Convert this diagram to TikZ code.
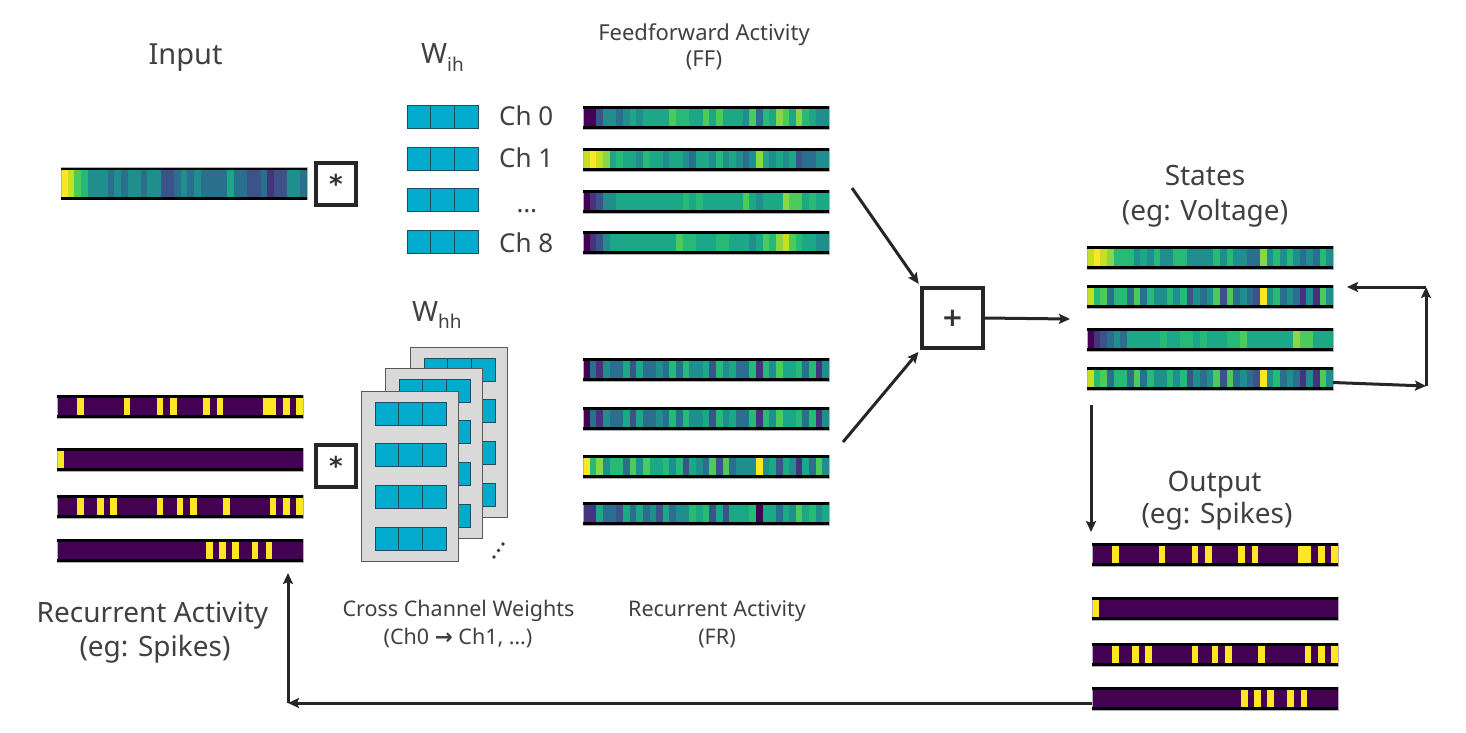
\documentclass[tikz,border=0pt]{standalone}
\usepackage{fontspec}
\setmainfont{Noto Sans}
\newfontfamily\arrowfont{DejaVu Sans}
\usetikzlibrary{arrows.meta,positioning}

\definecolor{vir0}{HTML}{440154}
\definecolor{vir1}{HTML}{46337E}
\definecolor{vir2}{HTML}{3B528B}
\definecolor{vir3}{HTML}{2A6F8E}
\definecolor{vir4}{HTML}{1F8E8D}
\definecolor{vir5}{HTML}{1CA886}
\definecolor{vir6}{HTML}{27BA76}
\definecolor{vir7}{HTML}{4CCB5B}
\definecolor{vir8}{HTML}{8AD646}
\definecolor{vir9}{HTML}{C4E020}
\definecolor{vir10}{HTML}{FDE725}
\definecolor{wcyan}{HTML}{00ABCD}
\definecolor{wedge}{HTML}{1E4D5C}
\definecolor{panelgray}{HTML}{D9D9D9}
\definecolor{txt}{HTML}{404040}

\newcommand{\fsz}[1]{\fontsize{#1}{#1}\selectfont}

\tikzset{
    strip/.style={minimum width=246pt, minimum height=#1, inner sep=0pt, outer sep=0pt, draw=black!30, line width=0.5pt},
    strip/.default=23pt,
    wcell/.style={fill=wcyan, draw=wedge, line width=1pt, minimum width=71pt, minimum height=23pt, inner sep=0pt},
    panel/.style={fill=panelgray, draw=black!65, line width=1.2pt, minimum width=97pt, minimum height=170pt, inner sep=0pt},
    opbox/.style={draw=black!85, line width=3.2pt, minimum width=40pt, minimum height=42pt, inner sep=0pt, font=\arrowfont\bfseries\fsz{26}, text=black!80},
    flow/.style={-{Stealth[length=11pt, width=10pt, inset=2pt]}, line width=3pt, black!85},
    bigtext/.style={text=txt, inner sep=0pt, font=\fsz{28}},
    midtext/.style={text=txt, inner sep=0pt, font=\fsz{22}},
    chtext/.style={text=txt, inner sep=0pt, font=\fsz{26}},
}

% colour strip: [height]{name}{left x}{top y}{levels}
\newcommand{\vstrip}[5][23]{%
    \foreach \c [count=\i from 0] in {#5}
        \fill[vir\c] ({#3+\i*6.65},#4) rectangle ++(6.75,#1);
    \node[strip={#1pt}, anchor=north west] (#2) at (#3,#4) {};
    \draw[line width=2.6pt] ([yshift=-1.3pt]#2.north west) -- ([yshift=-1.3pt]#2.north east)
        ([yshift=1.3pt]#2.south west) -- ([yshift=1.3pt]#2.south east);
}
% spike strip: {name}{left x}{top y}{spike cells}
\newcommand{\sstrip}[4]{%
    \fill[vir0] (#2,#3) rectangle ++(246,23);
    \foreach \k in {#4}
        \fill[vir10] ({#2+\k*6.65},#3) rectangle ++(6.65,23);
    \node[strip, anchor=north west] (#1) at (#2,#3) {};
    \draw[line width=2.6pt] ([yshift=-1.3pt]#1.north west) -- ([yshift=-1.3pt]#1.north east)
        ([yshift=1.3pt]#1.south west) -- ([yshift=1.3pt]#1.south east);
}
% weight kernel: {name}{left x}{top y}
\newcommand{\wbox}[3]{%
    \node[wcell, anchor=north west] (#1) at ({#2},{#3}) {};
    \draw[wedge, line width=1pt] ({#2+23.67},{#3}) -- ++(0,23) ({#2+47.33},{#3}) -- ++(0,23);
}

\begin{document}
\begin{tikzpicture}[x=1pt, y=-1pt]
    \useasboundingbox (0,0) rectangle (1466,732);

    % input
    \node [bigtext, anchor=base, font=\fsz{29}] (inlabel) at (185.5,64) {Input};
    \vstrip[32]{inp}{61}{167.5}{10,9,7,6,4,4,4,3,4,3,4,4,3,4,4,2,2,3,4,3,4,3,3,3,3,5,3,3,2,2,3,1,2,2,4,4,3}
    \node [opbox] (star1) at (336,184) {\raisebox{-6pt}{*}};

    % input weights
    \node [text=txt, inner sep=0pt, anchor=base west] (wih) at (421,63)
        {\fsz{28}W\raisebox{-8pt}{\fsz{19}ih}};
    \foreach \y [count=\k from 0] in {105,147,188,230}
        \wbox{ih\k}{407}{\y};
    \node [chtext, anchor=base west] (ch0) at (499,125) {Ch 0};
    \node [chtext, anchor=base west] (ch1) at (499,167) {Ch 1};
    \node [chtext, anchor=base] (chdots) at (527,212) {…};
    \node [chtext, anchor=base west] (ch8) at (499,252) {Ch 8};

    % feedforward activity
    \node [midtext, anchor=base] (fflabel) at (704,40) {Feedforward Activity};
    \node [midtext, anchor=base] (ffnote) at (704,66) {(FF)};
    \vstrip{ff0}{583}{106}{0,0,2,4,4,3,4,5,4,5,5,5,5,7,6,6,5,5,7,5,7,5,5,5,4,7,3,6,5,8,7,5,8,6,5,4,4}
    \vstrip{ff1}{583}{148}{9,10,9,8,5,6,5,5,4,6,5,5,4,5,5,4,3,5,5,4,6,4,5,4,3,4,8,5,4,5,4,5,2,3,3,4,4}
    \vstrip{ff2}{583}{190}{0,1,2,4,4,5,5,5,5,5,5,5,5,5,5,6,5,6,5,5,5,5,5,5,7,5,4,5,5,5,8,7,7,5,6,5,5}
    \vstrip{ff3}{583}{231}{0,1,2,4,5,5,5,5,5,5,5,5,5,5,7,6,6,5,5,5,6,6,5,5,5,4,5,7,6,8,9,7,6,5,5,4,4}

    % recurrent activity (spikes)
    \sstrip{r0}{57}{395}{3,10,15,17,22,24,31,32,34,36}
    \sstrip{r1}{57}{448}{0}
    \sstrip{r2}{57}{495}{3,6,8,15,18,20,25,32,34,36}
    \sstrip{r3}{57}{539}{22.4,24.4,26.3,29.3,31.4}
    \node [opbox] (star2) at (336,466) {\raisebox{-6pt}{*}};
    \node [bigtext, anchor=base] (reclabel) at (152.5,622) {Recurrent Activity};
    \node [bigtext, anchor=base] (recnote) at (155,656) {(eg: Spikes)};

    % recurrent weights
    \node [text=txt, inner sep=0pt, anchor=base west] (whh) at (412,321)
        {\fsz{28}W\raisebox{-7pt}{\fsz{19}hh}};
    \foreach \dx/\dy/\p in {49/-44/2, 24/-23/1, 0/0/0} {
        \node [panel, anchor=north west] (pan\p) at ({361+\dx},{391+\dy}) {};
        \foreach \by [count=\k from 0] in {11,52,94,136}
            \wbox{hh\p\k}{375+\dx}{391+\dy+\by};
    }
    \fill[black!80] (494,557) circle (1.9) (498.5,550.5) circle (1.9) (503,544) circle (1.9);
    \node [midtext, anchor=base, font=\fsz{21.5}] (crosslabel) at (458.5,616) {Cross Channel Weights};
    \node [midtext, anchor=base, font=\fsz{21.5}] (crossnote) at (458,644) {(Ch0 {\arrowfont\bfseries →} Ch1, …)};

    % recurrent contribution
    \vstrip{fr0}{583}{358}{0,3,1,4,3,3,5,2,5,3,3,4,3,6,3,6,4,4,5,2,6,4,5,3,3,6,1,6,4,7,5,5,6,3,6,1,4}
    \vstrip{fr1}{583}{407}{0,3,1,4,3,3,5,2,5,3,3,4,3,6,3,6,4,4,5,2,6,4,5,3,3,6,1,6,4,7,5,5,6,3,6,1,4}
    \vstrip{fr2}{583}{455}{10,6,8,4,6,6,3,7,4,7,5,5,6,4,6,2,5,4,3,7,2,7,3,4,4,4,10,4,5,2,5,4,1,5,3,7,4}
    \vstrip{fr3}{583}{502}{1,1,5,3,3,2,5,3,5,3,4,2,5,3,4,4,6,5,6,2,5,2,5,5,5,6,0,5,5,3,5,4,7,5,6,4,5}
    \node [midtext, anchor=base, font=\fsz{21.5}] (frlabel) at (717,616) {Recurrent Activity};
    \node [midtext, anchor=base, font=\fsz{21.5}] (frnote) at (717,644) {(FR)};

    % sum
    \node [opbox, minimum width=61pt, minimum height=60pt] (plus) at (952.5,318) {+};
    \coordinate (ffout) at (852,188);
    \coordinate (frout) at (843,442);
    \coordinate (stin) at (1070,319);
    \draw [flow, shorten >=3pt] (ffout) -- (plus.north west);
    \draw [flow, shorten >=3pt] (frout) -- (plus.south west);
    \draw [flow] (plus.east) -- (stin);

    % states
    \node [bigtext, anchor=base] (stlabel) at (1205,185) {States};
    \node [bigtext, anchor=base] (stnote) at (1205,220) {(eg: Voltage)};
    \vstrip{s0}{1087}{246}{9,10,9,8,6,6,6,4,5,4,6,4,4,6,6,4,4,4,4,6,4,6,4,4,3,3,8,4,6,4,6,4,3,4,3,6,4}
    \vstrip{s1}{1087}{285}{9,6,7,3,6,6,3,7,3,6,4,4,6,4,6,2,4,3,4,7,2,7,3,4,3,2,10,4,6,3,4,3,1,4,1,7,4}
    \vstrip{s2}{1087}{328}{0,1,2,3,4,3,5,5,5,5,5,6,5,5,6,6,5,6,5,5,5,6,6,7,5,5,5,5,5,5,5,8,7,7,5,5,5}
    \vstrip{s3}{1087}{367}{9,6,7,3,6,6,3,7,3,6,4,4,6,4,6,2,4,3,4,7,2,7,3,4,3,2,10,4,6,3,4,3,1,4,1,7,4}
    \coordinate (loopbr) at (1426,386);
    \coordinate (looptr) at (1426,287);
    \coordinate (loopin) at (1347,287);
    \draw [flow] ([yshift=-4pt]s3.east) -- (loopbr);
    \draw [flow] (loopbr) -- (looptr);
    \draw [flow] (looptr) -- (loopin);

    % output
    \node [bigtext, anchor=base] (outlabel) at (1214.5,491) {Output};
    \node [bigtext, anchor=base] (outnote) at (1217,523) {(eg: Spikes)};
    \sstrip{o0}{1092}{543}{3,10,15,17,22,24,31,32,34,36}
    \sstrip{o1}{1092}{597}{0}
    \sstrip{o2}{1092}{643}{3,6,8,15,18,20,25,32,34,36}
    \sstrip{o3}{1092}{687}{22.4,24.4,26.3,29.3,31.4}
    \draw [flow] ([xshift=4pt, yshift=-15pt]s3.south west) -- ([xshift=-1pt, yshift=11pt]o0.north west);

    % back to recurrent input
    \coordinate (corner) at (288,703);
    \draw [flow] ([yshift=-4.5pt]o3.west) -- (corner);
    \draw [flow] (corner) -- ([xshift=-15pt, yshift=-11pt]r3.south east);
\end{tikzpicture}
\end{document}
